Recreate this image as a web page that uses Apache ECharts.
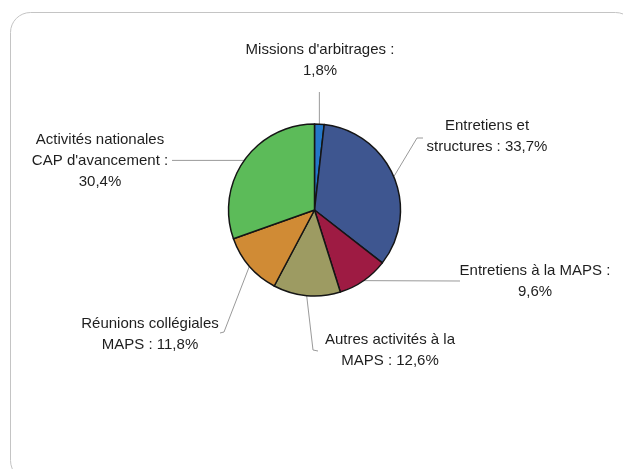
<!DOCTYPE html>
<html>
<head>
<meta charset="utf-8">
<script src="https://cdn.jsdelivr.net/npm/echarts@6/dist/echarts.min.js"></script>
<style>
html,body{margin:0;padding:0;background:#fff;}
#chart{width:623px;height:469px;}
</style>
</head>
<body>
<div id="chart"></div>
<script>
// Data
var categories = ["Missions d'arbitrages", "Entretiens et\nstructures", "Entretiens à la MAPS", "Autres activités à la\nMAPS", "Réunions collégiales\nMAPS", "Activités nationales\nCAP d'avancement"];
var values = [1.8, 33.7, 9.6, 12.6, 11.8, 30.4];
var breakAfterColon = [true, false, true, false, false, true];
var colors = ['#2477c9', '#3e5690', '#9e1b43', '#9d9b62', '#d08b35', '#5cbb59'];

// Label placement (style)
var labelPos = [[320, 60], [487, 136], [535, 281], [390, 350], [150, 334], [100, 161]];
var lineTail = [
  function (p) { return [[p[0], 92]]; },
  function (p) { return [[417, 138], [423, 138]]; },
  function (p) { return [[460, 281]]; },
  function (p) { return [[313, 350], [318, 351]]; },
  function (p) { return [[224, 332], [220, 333]]; },
  function (p) { return [[172, p[1]]]; }
];

var data = categories.map(function (c, i) {
  return { name: c, value: values[i], itemStyle: { color: colors[i] } };
});

var chart = echarts.init(document.getElementById('chart'), null, { renderer: 'canvas' });
chart.setOption({
  backgroundColor: '#ffffff',
  animation: false,
  graphic: [{
    type: 'rect',
    z: -10,
    shape: { x: 10.5, y: 12.5, width: 625, height: 468, r: 20 },
    style: { fill: '#ffffff', stroke: '#c4c4c4', lineWidth: 1 }
  }],
  series: [{
    type: 'pie',
    center: [314.5, 210],
    radius: 86,
    startAngle: 90,
    clockwise: true,
    avoidLabelOverlap: false,
    data: data,
    itemStyle: { borderColor: '#151515', borderWidth: 1.5 },
    label: {
      show: true,
      color: '#1e1e1e',
      fontFamily: 'Liberation Sans, Arial, sans-serif',
      fontSize: 15,
      lineHeight: 21,
      align: 'center',
      formatter: function (p) {
        var i = p.dataIndex;
        var v = values[i].toFixed(1).replace('.', ',') + '%';
        return p.name + ' :' + (breakAfterColon[i] ? '\n' : ' ') + v;
      }
    },
    labelLine: {
      show: true,
      lineStyle: { color: '#9a9a9a', width: 1 }
    },
    labelLayout: function (params) {
      var i = params.dataIndex;
      var p0 = params.labelLinePoints ? params.labelLinePoints[0] : null;
      var res = {
        x: labelPos[i][0],
        y: labelPos[i][1],
        align: 'center',
        verticalAlign: 'middle'
      };
      if (p0) {
        res.labelLinePoints = [p0].concat(lineTail[i](p0));
      }
      return res;
    }
  }]
});
</script>
</body>
</html>
